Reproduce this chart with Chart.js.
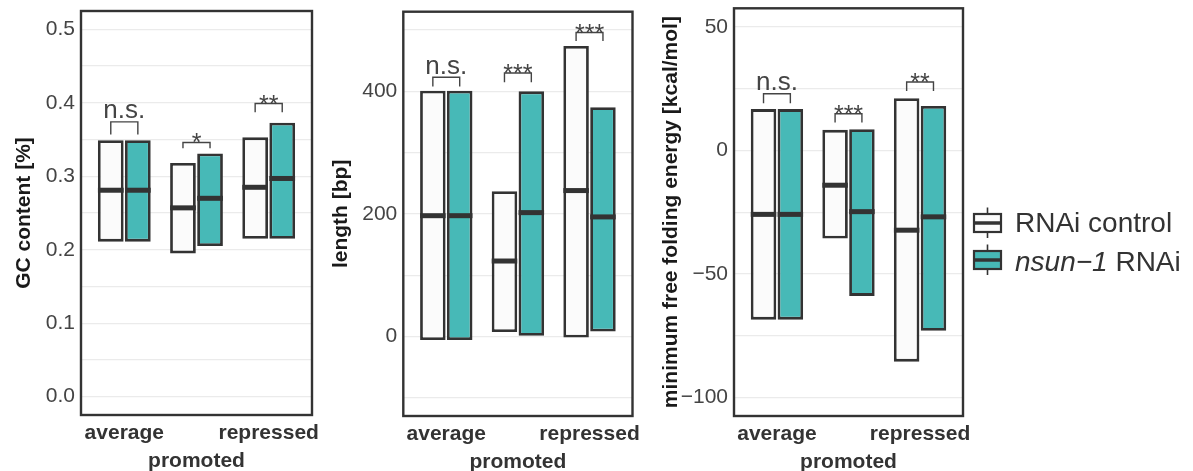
<!DOCTYPE html>
<html><head><meta charset="utf-8">
<script src="https://cdn.jsdelivr.net/npm/chart.js@4.4.1/dist/chart.umd.min.js"></script>
<style>
html,body{margin:0;padding:0;background:#fff;width:1193px;height:471px;overflow:hidden;}
canvas{position:absolute;top:0;}
.lg{position:absolute;font-family:"Liberation Sans",Arial,sans-serif;color:#333;white-space:nowrap;}
.txt{font-size:28px;line-height:33px;height:33px;}
</style></head>
<body>
<canvas id="c1" width="330" height="471" style="left:0px"></canvas>
<canvas id="c2" width="320" height="471" style="left:325px"></canvas>
<canvas id="c3" width="340" height="471" style="left:655px"></canvas>

<svg class="lg" style="left:971px;top:206px" width="33" height="33">
  <line x1="16.5" y1="1.5" x2="16.5" y2="8" stroke="#333" stroke-width="1.6"/>
  <line x1="16.5" y1="26" x2="16.5" y2="32" stroke="#333" stroke-width="1.6"/>
  <rect x="3" y="8" width="27" height="18" fill="#fbfbfb" stroke="#333" stroke-width="2.2"/>
  <line x1="3" y1="17" x2="30" y2="17" stroke="#333" stroke-width="3.5"/>
</svg>
<svg class="lg" style="left:971px;top:243px" width="33" height="33">
  <line x1="16.5" y1="1.5" x2="16.5" y2="8" stroke="#333" stroke-width="1.6"/>
  <line x1="16.5" y1="26" x2="16.5" y2="32" stroke="#333" stroke-width="1.6"/>
  <rect x="3" y="8" width="27" height="18" fill="#47b9b7" stroke="#333" stroke-width="2.2"/>
  <line x1="3" y1="17" x2="30" y2="17" stroke="#333" stroke-width="3.5"/>
</svg>
<div class="lg txt" id="lg1" style="left:1015px;top:206px"></div>
<div class="lg txt" id="lg2" style="left:1015px;top:244.5px"><i>nsun−1</i> RNAi</div>

<script>
// ---------- data ----------
const categories = ['average', 'promoted', 'repressed'];
const seriesNames = ['RNAi control', 'nsun−1 RNAi'];
const seriesColors = ['#fbfbfb', '#47b9b7'];

// GC content [%]
const gcCtrlLow    = [0.211, 0.195, 0.215];
const gcCtrlHigh   = [0.349, 0.318, 0.353];
const gcCtrlMedian = [0.281, 0.257, 0.285];
const gcNsunLow    = [0.211, 0.205, 0.215];
const gcNsunHigh   = [0.349, 0.331, 0.373];
const gcNsunMedian = [0.281, 0.270, 0.297];
const gcSigLabels  = ['n.s.', '*', '**'];
const gcSigY       = [0.374, 0.346, 0.399];
const gcSigTipY    = [0.357, 0.338, 0.387];
const gcTicks      = [0, 0.05, 0.1, 0.15, 0.2, 0.25, 0.3, 0.35, 0.4, 0.45, 0.5];
const gcTickLabels = ['0.0', '', '0.1', '', '0.2', '', '0.3', '', '0.4', '', '0.5'];

// length [bp]
const lenCtrlLow    = [-6, 7, -2];
const lenCtrlHigh   = [401, 237, 474];
const lenCtrlMedian = [197, 123, 238];
const lenNsunLow    = [-6, 1, 8];
const lenNsunHigh   = [401, 400, 374];
const lenNsunMedian = [197, 202, 195];
const lenSigLabels  = ['n.s.', '***', '***'];
const lenSigY       = [423, 430, 496];
const lenSigTipY    = [408, 415, 482];
const lenTicks      = [-100, 0, 100, 200, 300, 400, 500];
const lenTickLabels = ['', '0', '', '200', '', '400', ''];

// minimum free folding energy [kcal/mol]
const mfeCtrlLow    = [-68.5, -35.7, -85.5];
const mfeCtrlHigh   = [16.7, 8.3, 21.1];
const mfeCtrlMedian = [-25.9, -14.1, -32.3];
const mfeNsunLow    = [-68.5, -58.9, -73.0];
const mfeNsunHigh   = [16.7, 8.6, 18.0];
const mfeNsunMedian = [-25.9, -24.8, -26.9];
const mfeSigLabels  = ['n.s.', '***', '**'];
const mfeSigY       = [22.9, 14.8, 27.7];
const mfeSigTipY    = [19.1, 11.3, 24.0];
const mfeTicks      = [-100, -75, -50, -25, 0, 25, 50];
const mfeTickLabels = ['−100', '', '−50', '', '0', '', '50'];

document.getElementById('lg1').textContent = seriesNames[0];

// ---------- drawing ----------
const FONT = '"Liberation Sans", Arial, sans-serif';
Chart.defaults.font.family = FONT;

const boxExtras = {
  id: 'boxExtras',
  afterDatasetsDraw(chart, args, o) {
    const ctx = chart.ctx, ys = chart.scales.y;
    ctx.save();
    [o.ctrlMed, o.nsunMed].forEach((med, d) => {
      chart.getDatasetMeta(d).data.forEach((bar, i) => {
        const py = ys.getPixelForValue(med[i]);
        ctx.fillStyle = '#333';
        ctx.fillRect(bar.x - bar.width / 2, py - 2.5, bar.width, 5);
      });
    });
    const m0 = chart.getDatasetMeta(0).data, m1 = chart.getDatasetMeta(1).data;
    o.sigLabels.forEach((lab, i) => {
      const x1 = m0[i].x, x2 = m1[i].x;
      const by = ys.getPixelForValue(o.sigY[i]), ty = ys.getPixelForValue(o.sigTip[i]);
      ctx.strokeStyle = '#444'; ctx.lineWidth = 1.4;
      ctx.beginPath(); ctx.moveTo(x1, ty); ctx.lineTo(x1, by); ctx.lineTo(x2, by); ctx.lineTo(x2, ty); ctx.stroke();
      ctx.fillStyle = '#444'; ctx.textAlign = 'center'; ctx.textBaseline = 'alphabetic';
      if (lab === 'n.s.') { ctx.font = '26px ' + FONT; ctx.fillText(lab, (x1 + x2) / 2, by - 3.5); }
      else { ctx.font = '25px ' + FONT; ctx.fillText(lab, (x1 + x2) / 2, by + 9); }
    });
    ctx.restore();
  },
  afterDraw(chart) {
    const { ctx, chartArea: a } = chart;
    ctx.save();
    ctx.strokeStyle = '#333'; ctx.lineWidth = 2.4;
    ctx.strokeRect(a.left, a.top, a.right - a.left, a.bottom - a.top);
    ctx.restore();
  }
};

function makePanel(id, c) {
  const ds = (low, high, color, name) => ({
    label: name,
    data: categories.map((cat, i) => ({ x: i, y: [low[i], high[i]] })),
    backgroundColor: color, borderColor: '#333', borderWidth: 2.8, borderSkipped: false,
    categoryPercentage: 0.75, barPercentage: 0.95
  });
  return new Chart(document.getElementById(id), {
    type: 'bar',
    data: { datasets: [ds(c.ctrlLow, c.ctrlHigh, seriesColors[0], seriesNames[0]),
                       ds(c.nsunLow, c.nsunHigh, seriesColors[1], seriesNames[1])] },
    options: {
      responsive: false, animation: false, events: [],
      layout: { padding: { left: 0, top: c.padTop, right: c.padRight, bottom: 0 } },
      plugins: {
        legend: { display: false }, tooltip: { enabled: false },
        boxExtras: { ctrlMed: c.ctrlMed, nsunMed: c.nsunMed, sigLabels: c.sigLabels, sigY: c.sigY, sigTip: c.sigTip }
      },
      scales: {
        x: {
          type: 'linear', min: -0.6, max: 2.6, offset: false,
          grid: { display: false, drawTicks: false, offset: false }, border: { display: false },
          afterBuildTicks: s => { s.ticks = categories.map((cat, i) => ({ value: i })); },
          afterFit: s => { s.height = 471 - c.bottom; s.paddingLeft = 0; s.paddingRight = 0; },
          ticks: {
            autoSkip: false, maxRotation: 0, minRotation: 0, padding: 5, color: '#333',
            font: { size: 21, weight: 'bold', lineHeight: 1.3 },
            callback: v => (v === 1 ? ['', categories[1]] : categories[v])
          }
        },
        y: {
          type: 'linear', min: c.yMin, max: c.yMax,
          grid: { color: '#ebebeb', lineWidth: 1.2, drawTicks: false }, border: { display: false },
          afterBuildTicks: s => { s.ticks = c.ticks.map(v => ({ value: v })); },
          afterFit: s => { s.width = c.yWidth; s.paddingTop = 0; s.paddingBottom = 0; },
          ticks: { padding: 6, color: '#444', font: { size: 21 }, callback: (v, i) => c.tickLabels[i] },
          title: { display: true, text: c.title, color: '#1a1a1a', font: { size: 21, weight: 'bold' },
                   padding: { top: c.titlePad, bottom: 0 } }
        }
      }
    },
    plugins: [boxExtras]
  });
}

makePanel('c1', {
  ctrlLow: gcCtrlLow, ctrlHigh: gcCtrlHigh, ctrlMed: gcCtrlMedian,
  nsunLow: gcNsunLow, nsunHigh: gcNsunHigh, nsunMed: gcNsunMedian,
  sigLabels: gcSigLabels, sigY: gcSigY, sigTip: gcSigTipY,
  ticks: gcTicks, tickLabels: gcTickLabels, yMin: -0.025, yMax: 0.525,
  title: 'GC content [%]', titlePad: 11.8, yWidth: 81, padTop: 11, padRight: 18, bottom: 415
});
makePanel('c2', {
  ctrlLow: lenCtrlLow, ctrlHigh: lenCtrlHigh, ctrlMed: lenCtrlMedian,
  nsunLow: lenNsunLow, nsunHigh: lenNsunHigh, nsunMed: lenNsunMedian,
  sigLabels: lenSigLabels, sigY: lenSigY, sigTip: lenSigTipY,
  ticks: lenTicks, tickLabels: lenTickLabels, yMin: -130, yMax: 530,
  title: 'length [bp]', titlePad: 3.4, yWidth: 78.3, padTop: 11.7, padRight: 12.5, bottom: 416
});
makePanel('c3', {
  ctrlLow: mfeCtrlLow, ctrlHigh: mfeCtrlHigh, ctrlMed: mfeCtrlMedian,
  nsunLow: mfeNsunLow, nsunHigh: mfeNsunHigh, nsunMed: mfeNsunMedian,
  sigLabels: mfeSigLabels, sigY: mfeSigY, sigTip: mfeSigTipY,
  ticks: mfeTicks, tickLabels: mfeTickLabels, yMin: -107.5, yMax: 57.5,
  title: 'minimum free folding energy [kcal/mol]', titlePad: 3.9, yWidth: 79, padTop: 8.3, padRight: 32, bottom: 416
});
</script>
</body></html>
